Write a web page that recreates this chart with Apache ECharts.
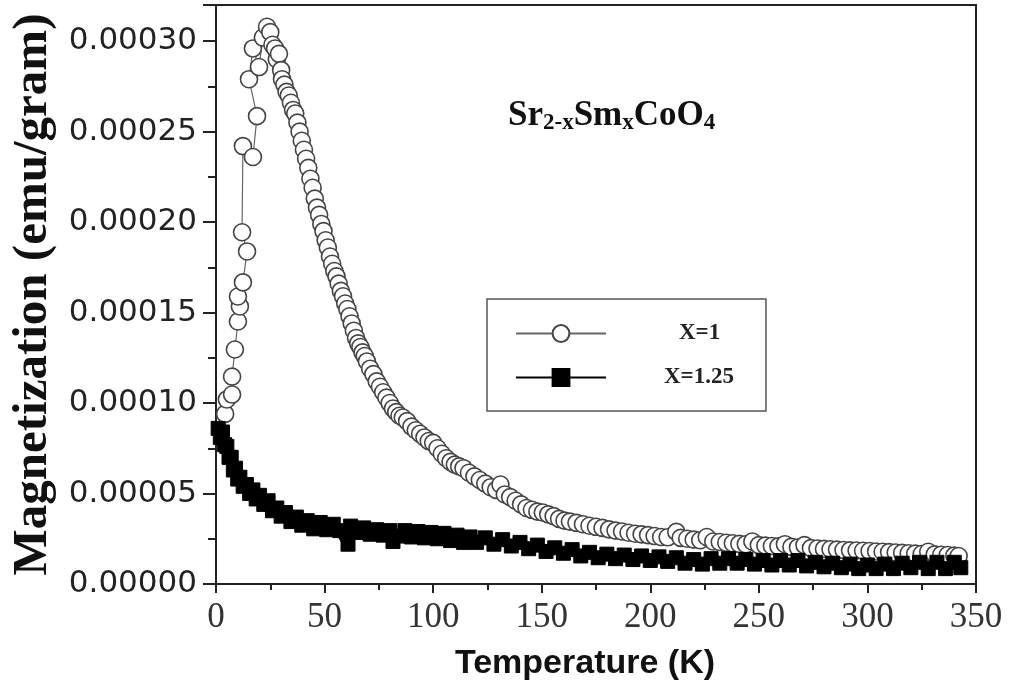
<!DOCTYPE html>
<html>
<head>
<meta charset="utf-8">
<script src="https://cdn.jsdelivr.net/npm/echarts@6/dist/echarts.min.js"></script>
<style>html,body{margin:0;padding:0;background:#fff;}#c{width:1011px;height:693px;}</style>
</head>
<body>
<div id="c"></div>
<script>
// ---- data ----
var seriesNames = ['X=1', 'X=1.25'];
var xTickLabels = ['0', '50', '100', '150', '200', '250', '300', '350'];
var yTickLabels = ['0.00000', '0.00005', '0.00010', '0.00015', '0.00020', '0.00025', '0.00030'];

// X = 1 (open circles): temperature (K) and magnetization (emu/gram)
var tempX1 = [4.2, 5.0, 7.4, 7.4, 8.7, 10.1, 11.0, 10.1, 12.4, 14.3, 12.0, 12.4, 17.0, 18.9, 15.2, 17.0, 19.8, 21.6, 23.5,
  25.0, 26.0, 27.2, 28.0, 29.0, 30.0, 30.4, 31.5, 32.5, 33.5, 34.5, 35.5, 36.5, 37.5, 38.5, 39.5, 40.5, 41.5, 42.5, 43.5,
  44.5, 45.5, 46.5, 47.5, 48.5, 49.5, 50.5, 51.5, 52.5, 53.5, 54.5, 55.5, 56.5, 57.5, 58.5, 59.5, 60.5, 61.5, 62.5, 63.5,
  64.5, 65.5, 66.5, 67.5, 68.5, 69.5, 71.0, 72.5, 74.0, 75.5, 77.0, 78.5, 80.0, 81.5, 83.0, 84.5, 86.0, 88.0, 90.0, 92.0,
  94.0, 96.0, 98.0, 100.0, 102.0, 104.0, 106.0, 108.0, 110.0, 112.0, 114.0, 116.5, 119.0, 121.5, 124.0, 126.5, 129.0, 131.0, 133.0, 135.5,
  138.0, 140.5, 143.0, 145.5, 148.0, 150.5, 153.0, 155.5, 158.0, 160.5, 163.0, 166.0, 169.0, 172.0, 175.0, 178.0, 181.0, 184.0, 187.0, 190.0,
  193.0, 196.0, 199.0, 202.0, 205.0, 208.0, 212.0, 214.0, 217.0, 220.0, 223.0, 226.0, 229.0, 232.0, 235.0, 238.0, 241.0, 244.0, 247.0, 250.0,
  253.0, 256.0, 259.0, 262.0, 265.0, 268.0, 271.0, 274.0, 277.0, 280.0, 283.0, 286.0, 289.0, 292.0, 295.0, 298.0, 301.0, 304.0, 307.0, 310.0,
  313.0, 316.0, 319.0, 322.0, 325.0, 328.0, 331.0, 334.0, 337.0, 340.0, 342.0];
var magX1 = [9.4e-5, 1.02e-4, 1.047e-4, 1.146e-4, 1.296e-4, 1.451e-4, 1.534e-4, 1.589e-4, 1.667e-4, 1.838e-4, 1.944e-4, 2.42e-4, 2.36e-4, 2.586e-4, 2.79e-4, 2.96e-4, 2.857e-4, 3.02e-4, 3.08e-4,
  3.05e-4, 2.98e-4, 2.96e-4, 2.90e-4, 2.93e-4, 2.84e-4, 2.79e-4, 2.76e-4, 2.72e-4, 2.70e-4, 2.66e-4, 2.62e-4, 2.60e-4, 2.55e-4, 2.50e-4, 2.45e-4, 2.40e-4, 2.35e-4, 2.30e-4, 2.24e-4,
  2.19e-4, 2.13e-4, 2.08e-4, 2.04e-4, 1.99e-4, 1.95e-4, 1.90e-4, 1.86e-4, 1.81e-4, 1.77e-4, 1.73e-4, 1.70e-4, 1.66e-4, 1.62e-4, 1.59e-4, 1.55e-4, 1.52e-4, 1.48e-4, 1.44e-4, 1.40e-4,
  1.36e-4, 1.33e-4, 1.31e-4, 1.28e-4, 1.26e-4, 1.23e-4, 1.19e-4, 1.16e-4, 1.12e-4, 1.09e-4, 1.06e-4, 1.03e-4, 1.00e-4, 9.7e-5, 9.5e-5, 9.3e-5, 9.2e-5, 9.0e-5, 8.7e-5, 8.5e-5,
  8.3e-5, 8.1e-5, 7.9e-5, 7.8e-5, 7.5e-5, 7.2e-5, 6.95e-5, 6.75e-5, 6.6e-5, 6.5e-5, 6.4e-5, 6.15e-5, 5.95e-5, 5.75e-5, 5.55e-5, 5.35e-5, 5.2e-5, 5.5e-5, 4.95e-5, 4.8e-5,
  4.6e-5, 4.4e-5, 4.2e-5, 4.1e-5, 4.0e-5, 3.95e-5, 3.85e-5, 3.75e-5, 3.6e-5, 3.5e-5, 3.45e-5, 3.38e-5, 3.3e-5, 3.22e-5, 3.16e-5, 3.1e-5, 3.02e-5, 2.95e-5, 2.9e-5, 2.83e-5,
  2.78e-5, 2.74e-5, 2.7e-5, 2.65e-5, 2.6e-5, 2.58e-5, 2.88e-5, 2.55e-5, 2.5e-5, 2.45e-5, 2.42e-5, 2.6e-5, 2.35e-5, 2.32e-5, 2.28e-5, 2.25e-5, 2.22e-5, 2.2e-5, 2.35e-5, 2.15e-5,
  2.12e-5, 2.1e-5, 2.08e-5, 2.2e-5, 2.05e-5, 2.02e-5, 2.15e-5, 1.98e-5, 1.96e-5, 1.94e-5, 1.92e-5, 1.9e-5, 1.88e-5, 1.86e-5, 1.85e-5, 1.84e-5, 1.82e-5, 1.8e-5, 1.78e-5, 1.76e-5,
  1.74e-5, 1.72e-5, 1.7e-5, 1.68e-5, 1.66e-5, 1.78e-5, 1.64e-5, 1.62e-5, 1.6e-5, 1.57e-5, 1.55e-5];

// X = 1.25 (filled squares)
var tempX125 = [1.0, 2.0, 3.0, 4.0, 5.0, 6.0, 7.0, 8.0, 9.0, 10.0, 11.0, 12.5, 14.0, 15.5, 17.0, 18.5, 20.0, 22.0, 24.0, 26.0,
  28.0, 30.0, 32.0, 34.5, 37.0, 39.5, 42.0, 45.0, 48.0, 51.0, 54.0, 57.0, 60.8, 62.0, 65.0, 68.0, 71.0, 74.0, 77.0, 80.0,
  81.5, 84.0, 87.0, 90.0, 93.0, 96.0, 99.0, 102.0, 105.0, 108.0, 111.0, 114.0, 117.0, 120.0, 124.0, 128.0, 132.0, 136.0, 140.0, 144.0,
  148.0, 152.0, 156.0, 160.0, 164.0, 168.0, 172.0, 176.0, 180.0, 184.0, 188.0, 192.0, 196.0, 200.0, 204.0, 208.0, 212.0, 216.0, 220.0, 224.0,
  228.0, 232.0, 236.0, 240.0, 244.0, 248.0, 252.0, 256.0, 260.0, 264.0, 268.0, 272.0, 276.0, 280.0, 284.0, 288.0, 292.0, 296.0, 300.0, 304.0,
  308.0, 312.0, 316.0, 320.0, 324.0, 328.0, 332.0, 336.0, 340.0, 343.0];
var magX125 = [8.6e-5, 8.1e-5, 8.4e-5, 7.7e-5, 7.6e-5, 7.0e-5, 7.0e-5, 6.3e-5, 6.4e-5, 5.8e-5, 5.9e-5, 5.4e-5, 5.5e-5, 5.0e-5, 5.2e-5, 4.7e-5, 4.9e-5, 4.4e-5, 4.6e-5, 4.05e-5,
  4.2e-5, 3.75e-5, 3.95e-5, 3.45e-5, 3.7e-5, 3.25e-5, 3.5e-5, 3.05e-5, 3.4e-5, 3.0e-5, 3.3e-5, 2.95e-5, 2.2e-5, 3.2e-5, 2.85e-5, 3.1e-5, 2.75e-5, 3.0e-5, 2.7e-5, 2.95e-5,
  2.35e-5, 2.65e-5, 2.95e-5, 2.6e-5, 2.9e-5, 2.55e-5, 2.85e-5, 2.5e-5, 2.8e-5, 2.4e-5, 2.7e-5, 2.3e-5, 2.6e-5, 2.3e-5, 2.55e-5, 2.2e-5, 2.45e-5, 2.1e-5, 2.3e-5, 1.95e-5,
  2.15e-5, 1.8e-5, 2.0e-5, 1.7e-5, 1.9e-5, 1.55e-5, 1.75e-5, 1.45e-5, 1.65e-5, 1.4e-5, 1.6e-5, 1.35e-5, 1.55e-5, 1.3e-5, 1.5e-5, 1.25e-5, 1.45e-5, 1.15e-5, 1.35e-5, 1.1e-5,
  1.4e-5, 1.15e-5, 1.4e-5, 1.15e-5, 1.35e-5, 1.1e-5, 1.3e-5, 1.05e-5, 1.3e-5, 1.05e-5, 1.3e-5, 1.0e-5, 1.2e-5, 9.5e-6, 1.15e-5, 9.0e-6, 1.1e-5, 8.5e-6, 1.05e-5, 8.5e-6,
  1.1e-5, 8.5e-6, 1.15e-5, 9.0e-6, 1.2e-5, 8.5e-6, 1.2e-5, 8.5e-6, 1.2e-5, 9.0e-6];

function pairs(xs, ys) { return xs.map(function (x, i) { return [x, ys[i]]; }); }

var chart = echarts.init(document.getElementById('c'), null, { renderer: 'canvas' });
chart.setOption({
  animation: false,
  backgroundColor: '#fff',
  title: {
    text: '{m|Sr}{s|2-x}{m|Sm}{s|x}{m|CoO}{s|4}',
    left: 503, top: 88,
    textStyle: {
      rich: {
        m: { fontFamily: 'Liberation Serif', fontWeight: 'bold', fontSize: 35, color: '#111', lineHeight: 40, verticalAlign: 'bottom' },
        s: { fontFamily: 'Liberation Serif', fontWeight: 'bold', fontSize: 23, color: '#111', lineHeight: 40, verticalAlign: 'bottom', padding: [0, 0, -2, 0] }
      }
    }
  },
  legend: {
    orient: 'vertical',
    left: 487, top: 299,
    padding: [23, 32, 22, 28],
    itemWidth: 90, itemHeight: 21, itemGap: 21,
    borderColor: '#555', borderWidth: 1.5,
    textStyle: { fontFamily: 'Liberation Serif', fontWeight: 'bold', fontSize: 23, color: '#222' },
    data: [
      { name: seriesNames[0], textStyle: { padding: [0, 0, 0, 68], width: 57 } },
      { name: seriesNames[1], textStyle: { padding: [0, 0, 0, 53], width: 72 } }
    ]
  },
  grid: { left: 216, right: 35, top: 5, bottom: 109, show: true, borderColor: '#222', borderWidth: 2, backgroundColor: 'transparent' },
  xAxis: {
    type: 'value', min: 0, max: 350, interval: 50,
    name: 'Temperature (K)', nameLocation: 'middle', nameGap: 63,
    nameTextStyle: { fontFamily: 'Liberation Sans', fontWeight: 'bold', fontSize: 34, color: '#111', padding: [0, 22, 0, 0] },
    axisLine: { show: true, lineStyle: { color: '#222', width: 2 } },
    axisTick: { show: true, inside: false, length: 9, lineStyle: { color: '#222', width: 2 } },
    minorTick: { show: true, splitNumber: 2, length: 6, lineStyle: { color: '#222', width: 2 } },
    splitLine: { show: false },
    axisLabel: { margin: 16, fontFamily: 'Liberation Serif', fontSize: 35, color: '#333',
      formatter: function (v) { return xTickLabels[Math.round(v / 50)] || ''; } }
  },
  yAxis: {
    type: 'value', min: 0, max: 0.00032, interval: 0.00005,
    name: 'Magnetization (emu/gram)', nameLocation: 'middle', nameGap: 152,
    nameTextStyle: { fontFamily: 'Liberation Serif', fontWeight: 'bold', fontSize: 49, color: '#111', padding: [0, 0, 0, 0] },
    axisLine: { show: true, lineStyle: { color: '#222', width: 2 } },
    axisTick: { show: true, inside: false, length: 13, lineStyle: { color: '#222', width: 2 } },
    minorTick: { show: true, splitNumber: 2, length: 8, lineStyle: { color: '#222', width: 2 } },
    splitLine: { show: false },
    axisLabel: { margin: 19, fontFamily: 'DejaVu Sans', fontSize: 31, color: '#222', showMaxLabel: false,
      formatter: function (v) { return v > 0.000301 ? '' : (yTickLabels[Math.round(v / 0.00005)] || ''); } }
  },
  series: [
    {
      name: seriesNames[0], type: 'line', data: pairs(tempX1, magX1),
      symbol: 'circle', symbolSize: 17, showAllSymbol: true,
      lineStyle: { color: '#666', width: 1.2 },
      itemStyle: { color: '#fff', borderColor: '#444', borderWidth: 1.6 }
    },
    {
      name: seriesNames[1], type: 'line', data: pairs(tempX125, magX125),
      symbol: 'rect', symbolSize: 14, showAllSymbol: true,
      lineStyle: { color: '#000', width: 10 },
      itemStyle: { color: '#000', borderColor: '#000', borderWidth: 1 }
    }
  ]
});
</script>
</body>
</html>
